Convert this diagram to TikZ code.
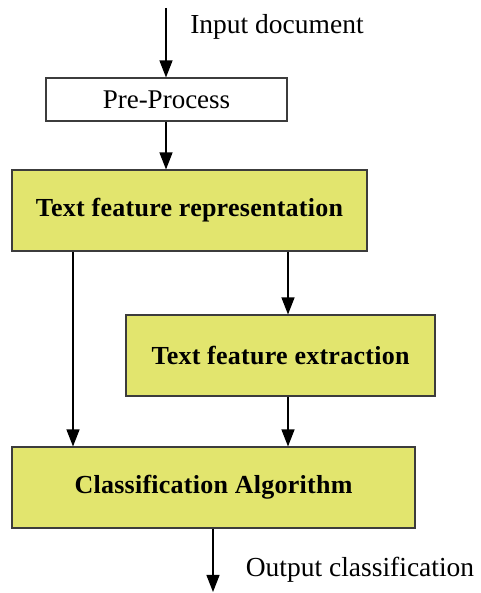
\documentclass[tikz,border=0pt]{standalone}
\usepackage{fontspec}
\setmainfont{Liberation Serif}
\newfontfamily\boxfont[LetterSpace=1.0]{Liberation Serif}
\usetikzlibrary{arrows.meta}
\definecolor{boxyellow}{RGB}{226,229,110}
\definecolor{boxline}{RGB}{60,60,60}
\tikzset{
  plainbox/.style={draw=boxline, line width=1.1pt, fill=white, inner sep=0pt, font=\fontsize{27}{30}\selectfont},
  yellowbox/.style={draw=boxline, line width=1.1pt, fill=boxyellow, inner sep=0pt, minimum height=81pt, font=\boxfont\fontsize{26}{29}\selectfont\bfseries},
  flow/.style={line width=1.2pt, -{Triangle[width=13pt,length=17pt]}},
  lbl/.style={font=\fontsize{27.5}{30}\selectfont, inner sep=0pt}
}
\begin{document}
\begin{tikzpicture}[x=1pt,y=1pt]
\useasboundingbox (0,0) rectangle (480,593);
\node[plainbox, minimum width=241pt, minimum height=43pt] (pre) at (166.5,493.5) {Pre-Process};
\node[yellowbox, minimum width=355pt] (tfr) at (189.5,382.5) {Text feature representation};
\node[yellowbox, minimum width=309pt] (tfe) at (280.5,237.5) {Text feature extraction};
\node[yellowbox, minimum width=403pt] (ca) at (213.5,105.5) {Classification Algorithm};
\node[lbl] (in) at (277,566) {Input document};
\node[lbl] (out) at (360,23) {Output classification};
\coordinate (start) at (166,585);
\coordinate (lx) at (73,0);
\coordinate (rx) at (288,0);
\coordinate (end) at (213,1);
\draw[flow] (start) -- (start |- pre.north);
\draw[flow] (pre.south -| start) -- (tfr.north -| start);
\draw[flow] (tfr.south -| lx) -- (ca.north -| lx);
\draw[flow] (tfr.south -| rx) -- (tfe.north -| rx);
\draw[flow] (tfe.south -| rx) -- (ca.north -| rx);
\draw[flow] (ca.south -| end) -- (end);
\end{tikzpicture}
\end{document}
